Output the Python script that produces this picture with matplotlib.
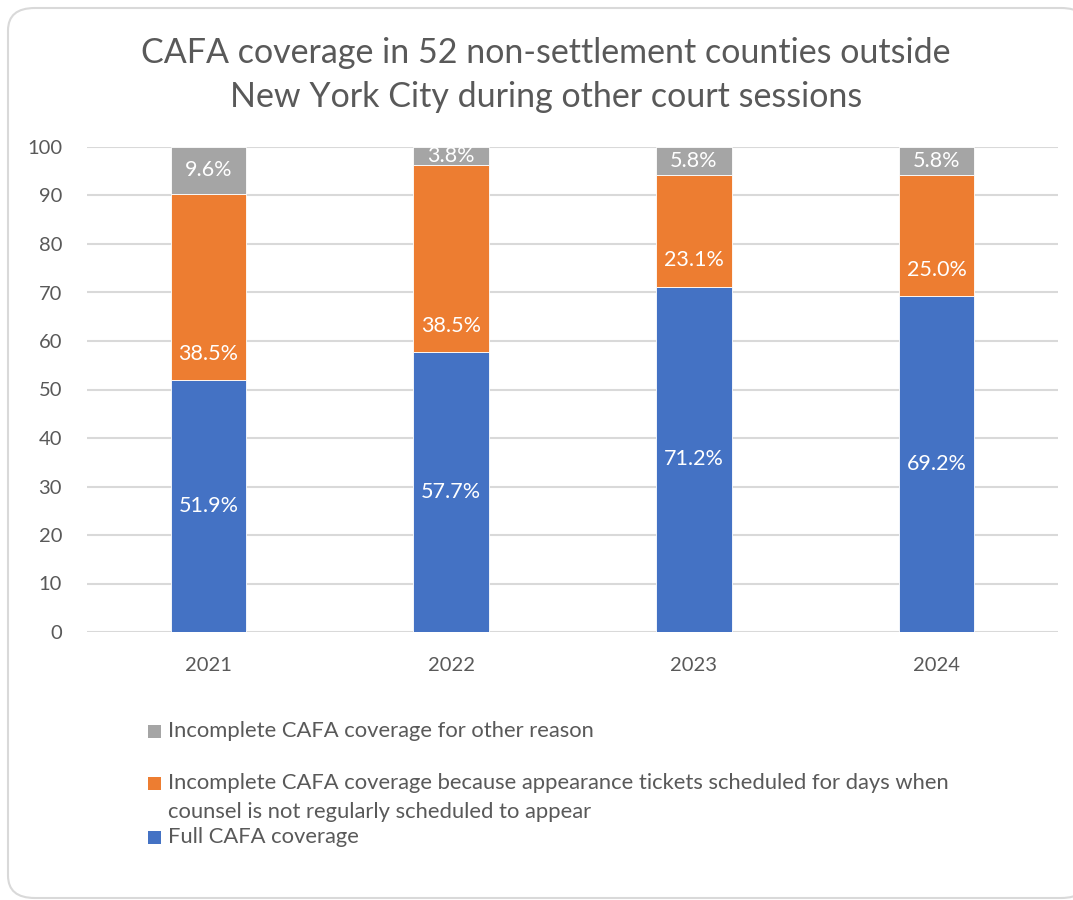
import matplotlib.pyplot as plt
from matplotlib.patches import FancyBboxPatch, Rectangle

years = ['2021', '2022', '2023', '2024']
full = [51.9, 57.7, 71.2, 69.2]
incomplete_days = [38.5, 38.5, 23.1, 25.0]
incomplete_other = [9.6, 3.8, 5.8, 5.8]

series_names = ['Incomplete CAFA coverage for other reason',
                'Incomplete CAFA coverage because appearance tickets scheduled for days when\ncounsel is not regularly scheduled to appear',
                'Full CAFA coverage']

blue = '#4472C4'
orange = '#ED7D31'
gray = '#A5A5A5'
txt = '#595959'

plt.rcParams['font.family'] = ['Lato', 'DejaVu Sans']

fig = plt.figure(figsize=(10.73, 9.0), dpi=100)

# rounded chart-area border
border = FancyBboxPatch((8/1073, 1 - 898/900), 1080/1073, 890/900,
                        boxstyle='round,pad=0,rounding_size=0.025',
                        transform=fig.transFigure, facecolor='white',
                        edgecolor='#D9D9D9', linewidth=1.5, clip_on=False, zorder=-10)
fig.patches.append(border)

ax = fig.add_axes([87/1073, 1 - 632/900, 971/1073, 485/900])
ax.set_facecolor('none')

x = range(len(years))
w = 0.31
ax.bar(x, full, w, color=blue, edgecolor='white', linewidth=0.6, zorder=3)
bottom2 = full
ax.bar(x, incomplete_days, w, bottom=bottom2, color=orange, edgecolor='white', linewidth=0.6, zorder=3)
bottom3 = [a + b for a, b in zip(full, incomplete_days)]
ax.bar(x, incomplete_other, w, bottom=bottom3, color=gray, edgecolor='white', linewidth=0.6, zorder=3)

lbl = dict(ha='center', va='center', color='white', fontsize=15.5, zorder=4)
for i in x:
    ax.text(i, full[i] / 2, f'{full[i]:.1f}%', **lbl)
    ax.text(i, bottom2[i] + 5.4, f'{incomplete_days[i]:.1f}%', **lbl)
    top = min(bottom3[i] + incomplete_other[i], 100)
    ax.text(i, (bottom3[i] + top) / 2, f'{incomplete_other[i]:.1f}%', **lbl)

ax.set_xlim(-0.5, 3.5)
ax.set_ylim(0, 100)
ax.set_yticks(range(0, 101, 10))
ax.set_xticks(list(x))
ax.set_xticklabels(years)
ax.grid(axis='y', color='#D9D9D9', linewidth=1.5, zorder=0)
for s in ax.spines.values():
    s.set_visible(False)
ax.tick_params(length=0, labelsize=14.5, colors=txt)
ax.tick_params(axis='y', pad=18)
ax.tick_params(axis='x', pad=18)

fig.text(546/1073, 1 - 75/900, 'CAFA coverage in 52 non-settlement counties outside\nNew York City during other court sessions',
         ha='center', va='center', fontsize=24.5, color=txt, linespacing=1.45)

# legend drawn by hand to keep the uneven spacing
leg_colors = [gray, orange, blue]
leg_y = [731, 783, 837]
for c, yy, name in zip(leg_colors, leg_y, series_names):
    fig.patches.append(Rectangle((148/1073, 1 - (yy + 7)/900), 13/1073, 13/900,
                                 transform=fig.transFigure, facecolor=c, edgecolor='none'))
    fig.text(168/1073, 1 - yy/900, name.split('\n')[0], ha='left', va='center',
             fontsize=15.8, color=txt)
    if '\n' in name:
        fig.text(168/1073, 1 - (yy + 29)/900, name.split('\n')[1], ha='left', va='center',
                 fontsize=15.8, color=txt)

fig.savefig('out.png', dpi=100)
